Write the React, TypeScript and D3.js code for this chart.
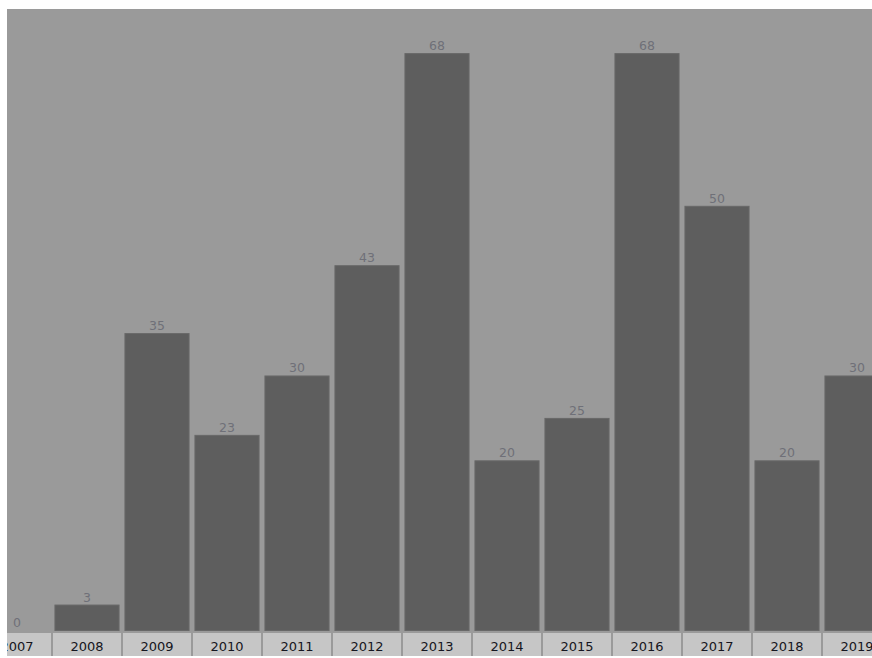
import React from "react";
import * as d3 from "d3";

const years = ["2007", "2008", "2009", "2010", "2011", "2012", "2013", "2014", "2015", "2016", "2017", "2018", "2019"];
const values = [0, 3, 35, 23, 30, 43, 68, 20, 25, 68, 50, 20, 30];

const W = 872;
const H = 658;
const plotLeft = 7;
const plotTop = 9;
const plotBottom = 630;

export default function App() {
  const x = d3
    .scaleBand<string>()
    .domain(years)
    .range([-18, 892])
    .paddingInner(0.07)
    .paddingOuter(0.035);
  const y = d3.scaleLinear().domain([0, 73.2]).range([plotBottom, plotTop]);
  const step = x.step();

  return (
    <svg
      width={W}
      height={H}
      style={{ position: "absolute", left: 0, top: 0, background: "#ffffff" }}
      fontFamily="'DejaVu Sans', Verdana, sans-serif"
    >
      <defs>
        <clipPath id="clip">
          <rect x={plotLeft} y={plotTop} width={W - plotLeft} height={H - plotTop} />
        </clipPath>
      </defs>
      <g clipPath="url(#clip)">
        <rect x={plotLeft} y={plotTop} width={W - plotLeft} height={H - 2 - plotTop} fill="#9a9a9a" />
        {years.map((yr, i) => {
          const bx = x(yr)!;
          const bw = x.bandwidth();
          const top = y(values[i]);
          const cx = bx + bw / 2;
          return (
            <g key={yr}>
              {values[i] > 0 && (
                <rect
                  x={bx + 0.5}
                  y={top + 0.5}
                  width={bw - 1}
                  height={plotBottom - top}
                  fill="#5e5e5e"
                  stroke="#686868"
                  strokeWidth={1}
                />
              )}
              <text
                x={cx}
                y={top - 3}
                textAnchor="middle"
                fontSize={12.5}
                fill="#6f7078"
              >
                {values[i]}
              </text>
              <rect
                x={cx - step / 2 + 1}
                y={633}
                width={step - 2}
                height={23}
                fill="#c6c6c6"
              />
              <text
                x={cx}
                y={651}
                textAnchor="middle"
                fontSize={13}
                fill="#151520"
              >
                {yr}
              </text>
            </g>
          );
        })}
      </g>
    </svg>
  );
}
